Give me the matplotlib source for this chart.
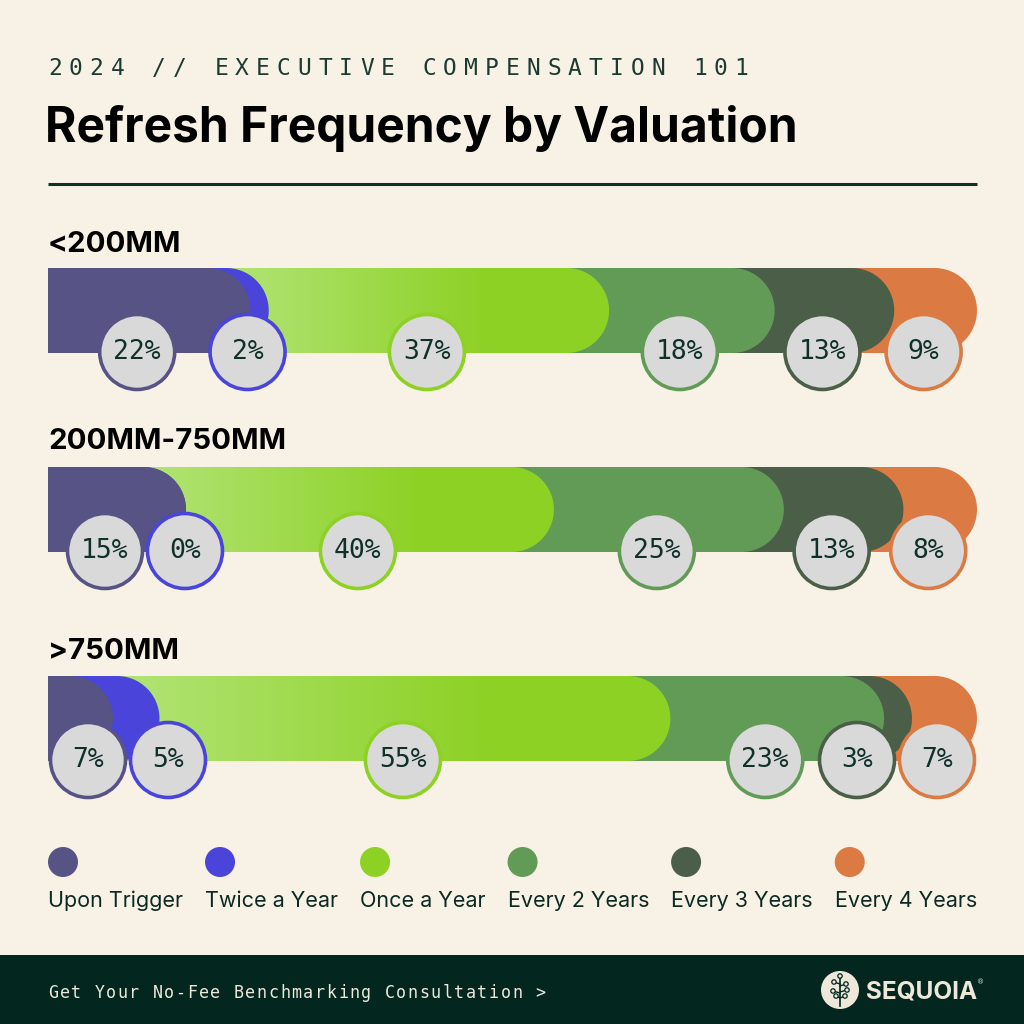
import numpy as np
import matplotlib.pyplot as plt
from matplotlib.patches import Circle, Polygon, Rectangle
from matplotlib.colors import to_rgb

# data
categories = ["Upon Trigger", "Twice a Year", "Once a Year",
              "Every 2 Years", "Every 3 Years", "Every 4 Years"]
colors = ["#575384", "#4A44DA", "#8DD124", "#629B56", "#4B5E48", "#DB7A42"]
valuations = ["<200MM", "200MM-750MM", ">750MM"]
under_200 = [22, 2, 37, 18, 13, 9]
mid_200_750 = [15, 0, 40, 25, 13, 8]
over_750 = [7, 5, 55, 23, 3, 7]
rows = [under_200, mid_200_750, over_750]

BG = "#F8F2E6"
INK = "#10302A"
FOOT = "#03271F"
CREAM = "#EDE8DA"
LIGHT_GREEN = "#B2E477"

fig = plt.figure(figsize=(10.24, 10.24), dpi=100)
fig.patch.set_facecolor(BG)
ax = fig.add_axes([0, 0, 1, 1])
ax.set_facecolor(BG)
ax.set_xlim(0, 1024)
ax.set_ylim(1024, 0)
ax.set_autoscale_on(False)
ax.axis("off")

left, right = 48, 977
bar_h = 85
row_tops = [268, 467, 676]
label_base = [252, 449, 659]
circ_r = 37.5


def spaced(x, y, s, pitch, **kw):
    for i, ch in enumerate(s):
        ax.text(x + i * pitch, y, ch, ha="left", va="baseline", **kw)


def bar_poly(x0, x1, top, h):
    r = h / 2
    xc = max(x1 - r, x0)
    t = np.radians(np.linspace(90, -90, 60))
    arc = np.column_stack([xc + r * np.cos(t), top + r - r * np.sin(t)])
    verts = np.vstack([[x0, top], arc, [x0, top + h]])
    return verts


# header
spaced(48, 75, "2024 // EXECUTIVE COMPENSATION 101", 20.8,
       family="DejaVu Sans Mono", fontsize=16.5, color="#1B3A32")
ax.text(45, 142, "Refresh Frequency by Valuation", family="Inter",
        fontweight="bold", fontsize=34.5, color="black", va="baseline")
ax.plot([left, right], [184, 184], color=INK, lw=2.2, solid_capstyle="butt")

for vi, (name, vals) in enumerate(zip(valuations, rows)):
    top = row_tops[vi]
    ax.text(left, label_base[vi], name, family="Inter", fontweight="bold",
            fontsize=21.2, color="black", va="baseline")
    total = float(sum(vals))
    cum = np.cumsum(vals)
    ends = left + cum / total * (right - left)
    starts = np.concatenate([[left], ends[:-1]])

    # draw from last segment to first so earlier ones sit on top
    for i in range(len(vals) - 1, -1, -1):
        poly = Polygon(bar_poly(left, ends[i], top, bar_h), closed=True,
                       facecolor=colors[i], edgecolor="none", zorder=2 + (6 - i))
        ax.add_patch(poly)
        if categories[i] == "Once a Year":
            g0 = starts[i] - bar_h / 2
            g1 = starts[i] + 0.65 * (ends[i] - starts[i])
            n = 200
            c0 = np.array(to_rgb(LIGHT_GREEN))
            c1 = np.array(to_rgb(colors[i]))
            f = np.linspace(0, 1, n)[:, None]
            grad = (c0 * (1 - f) + c1 * f)[None, :, :]
            im = ax.imshow(grad, extent=(g0, g1, top + bar_h, top),
                           aspect="auto", zorder=2 + (6 - i) + 0.5,
                           interpolation="bilinear")
            im.set_clip_path(poly)

    # label circles: near segment middle, pushed apart so they don't overlap
    cx = (starts + ends) / 2 - 12
    lo, hi, gap = left + 40, right - 40, 80
    cx = np.clip(cx, lo, hi)
    for i in range(1, len(cx)):
        cx[i] = max(cx[i], cx[i - 1] + gap)
    cx[-1] = min(cx[-1], hi)
    for i in range(len(cx) - 2, -1, -1):
        cx[i] = min(cx[i], cx[i + 1] - gap)
    cy = top + 84
    for i, v in enumerate(vals):
        ax.add_patch(Circle((cx[i], cy), circ_r, facecolor="#D9D9D9",
                            edgecolor=colors[i], lw=3.6 * 0.72, zorder=20 + i))
        ax.text(cx[i], cy, f"{v}%", family="DejaVu Sans Mono", fontsize=19,
                color=INK, ha="center", va="center", zorder=30 + i)

ax.set_xlim(0, 1024)
ax.set_ylim(1024, 0)

# legend, spread across the full width
leg_texts = []
for c in categories:
    t = ax.text(0, 907, c, family="Inter", fontsize=15.5, color="#0C2A23",
                va="baseline", ha="left")
    leg_texts.append(t)
fig.canvas.draw()
renderer = fig.canvas.get_renderer()
px = 1024 / fig.bbox.width  # data units per pixel
widths = [t.get_window_extent(renderer).width * px for t in leg_texts]
gap = (right - left - sum(widths)) / (len(categories) - 1)
x = left
for t, w, col in zip(leg_texts, widths, colors):
    t.set_x(x)
    ax.add_patch(Circle((x + 15, 862), 15, facecolor=col, edgecolor="none"))
    x += w + gap

# footer
ax.add_patch(Rectangle((0, 955), 1024, 80, facecolor=FOOT, edgecolor="none", zorder=1))
spaced(48, 998, "Get Your No-Fee Benchmarking Consultation >", 11.6,
       family="DejaVu Sans Mono", fontsize=12, color=CREAM, zorder=2)
ax.add_patch(Circle((840, 990), 19, facecolor=CREAM, edgecolor="none", zorder=2))
ax.plot([840, 840], [977, 1006], color=FOOT, lw=1.2, zorder=3)
for dx, dy in [(0, 976), (-6, 982), (6, 984), (-7, 991), (7, 990), (-4, 996), (5, 996)]:
    ax.plot([840, 840 + dx], [dy + 2, dy], color=FOOT, lw=1.0, zorder=3)
    ax.add_patch(Circle((840 + dx, dy), 2.2, facecolor=CREAM, edgecolor=FOOT,
                        lw=0.9, zorder=4))
ax.text(866, 998, "SEQUOIA", family="Inter", fontweight="bold", fontsize=17.5,
        color=CREAM, va="baseline", zorder=2)
ax.text(977, 984, "®", family="DejaVu Sans", fontsize=5, color=CREAM, zorder=2)

ax.set_xlim(0, 1024)
ax.set_ylim(1024, 0)
fig.savefig("out.png", dpi=100, facecolor=BG)
